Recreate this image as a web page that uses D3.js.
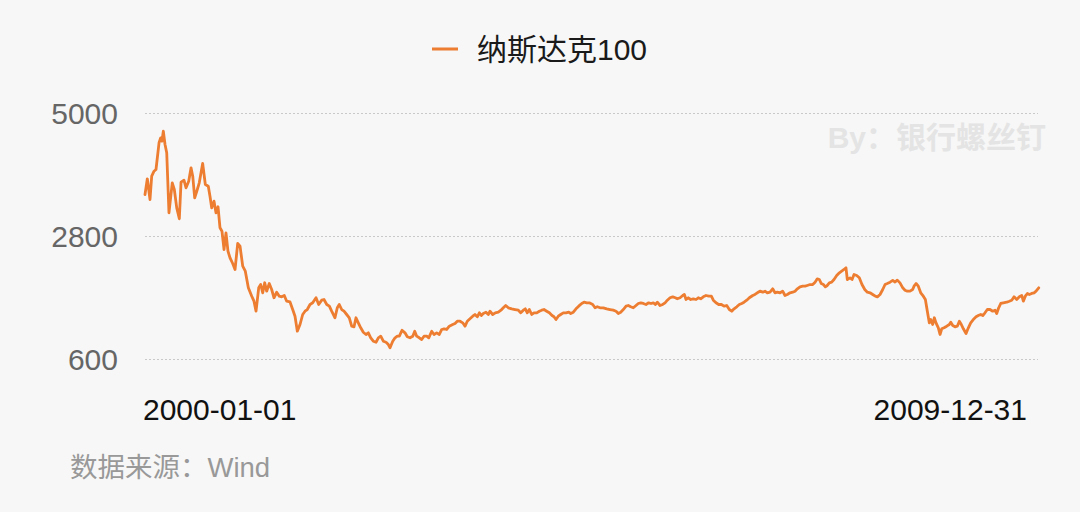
<!DOCTYPE html>
<html><head><meta charset="utf-8">
<script src="https://cdn.jsdelivr.net/npm/d3@7"></script>
<style>
html,body{margin:0;padding:0;background:#f7f7f7;}
svg{display:block;}
</style></head><body>
<svg id="c" width="1080" height="512"></svg>
<script>
const seriesName = "纳斯达克100";
const yTicks = [600, 2800, 5000];
const xTickLabels = ["2000-01-01", "2009-12-31"];
const xTickDates = [2000.0, 2010.0];
const sourceText = "数据来源：Wind";
const watermarkText = "By：银行螺丝钉";

// dates as decimal years
const dates = [
2000.000,2000.026,2000.056,2000.075,2000.101,2000.123,2000.157,2000.176,2000.190,2000.205,
2000.224,2000.243,2000.268,2000.305,2000.328,2000.355,2000.384,2000.403,2000.436,2000.459,
2000.489,2000.515,2000.534,2000.556,2000.585,2000.607,2000.645,2000.675,2000.708,2000.727,
2000.746,2000.772,2000.794,2000.817,2000.839,2000.861,2000.884,2000.906,2000.928,2000.951,
2000.981,2001.007,2001.037,2001.063,2001.093,2001.122,2001.156,2001.194,2001.219,2001.242,
2001.272,2001.294,2001.317,2001.339,2001.361,2001.390,2001.417,2001.443,2001.473,2001.502,
2001.529,2001.558,2001.585,
2001.622,2001.652,2001.678,2001.704,2001.734,2001.764,2001.790,2001.815,2001.846,2001.876,
2001.913,2001.943,2001.977,2002.002,2002.033,2002.062,2002.088,2002.125,2002.151,2002.173,
2002.200,2002.226,2002.256,2002.285,2002.312,2002.338,2002.360,2002.386,2002.413,2002.442,
2002.472,2002.498,2002.525,2002.554,2002.584,2002.610,2002.637,2002.666,2002.696,2002.722,
2002.741,2002.771,2002.797,2002.822,2002.845,2002.875,2002.908,2002.934,2002.964,2002.995,
2003.017,2003.039,2003.068,2003.095,2003.121,2003.151,2003.174,2003.207,2003.233,2003.263,
2003.292,2003.319,2003.345,2003.375,2003.404,
2003.442,2003.468,2003.493,2003.524,2003.554,2003.580,2003.605,2003.635,2003.666,2003.691,
2003.717,2003.740,2003.762,2003.784,2003.814,2003.840,2003.859,2003.889,2003.918,2003.952,
2003.982,2004.008,2004.035,2004.064,2004.102,2004.139,2004.176,2004.203,2004.232,2004.254,
2004.276,2004.299,2004.326,2004.351,2004.382,2004.411,2004.438,2004.463,2004.493,2004.523,
2004.553,2004.575,2004.597,2004.623,2004.650,2004.679,2004.709,2004.740,2004.762,2004.791,
2004.821,2004.851,2004.885,2004.911,2004.941,2004.970,
2005.008,2005.034,2005.059,2005.090,2005.127,2005.165,2005.201,2005.238,2005.269,2005.294,
2005.321,2005.350,2005.381,2005.406,2005.433,2005.462,2005.492,2005.518,2005.545,2005.574,
2005.604,2005.634,2005.660,2005.686,2005.708,2005.731,2005.761,2005.791,2005.817,2005.843,
2005.873,2005.903,2005.932,2005.954,2005.985,2006.015,2006.033,2006.052,2006.077,2006.104,
2006.133,2006.164,2006.189,2006.216,2006.245,2006.275,2006.306,2006.335,2006.357,2006.387,
2006.417,2006.447,2006.477,2006.507,2006.536,2006.563,2006.589,2006.619,2006.648,2006.675,
2006.701,2006.731,2006.760,
2006.798,2006.823,2006.849,2006.879,2006.910,2006.935,2006.961,2006.991,2007.021,2007.047,
2007.073,2007.103,2007.133,2007.159,2007.185,2007.215,2007.245,2007.271,2007.297,2007.327,
2007.357,2007.383,2007.408,2007.439,2007.469,2007.495,2007.520,2007.543,2007.565,2007.588,
2007.610,2007.632,2007.655,2007.681,2007.707,2007.737,2007.767,2007.793,2007.819,2007.841,
2007.856,2007.886,2007.909,2007.931,2007.961,2007.990,2008.020,2008.051,2008.080,2008.110,
2008.140,2008.169,2008.192,2008.222,2008.252,2008.278,2008.303,
2008.334,2008.364,2008.390,2008.415,2008.445,2008.476,2008.501,2008.527,2008.557,2008.587,
2008.602,2008.625,2008.650,2008.677,2008.706,2008.729,2008.751,2008.773,2008.789,2008.811,
2008.829,2008.848,2008.874,2008.893,2008.912,2008.938,2008.968,2008.997,2009.013,2009.035,
2009.061,2009.086,2009.109,2009.131,2009.154,2009.184,2009.210,2009.236,2009.265,2009.296,
2009.321,2009.348,2009.371,2009.396,2009.422,2009.452,2009.482,2009.508,2009.527,2009.549,
2009.572,2009.601,2009.639,2009.668,2009.695,2009.721,2009.751,2009.780,2009.807,2009.825,
2009.847,2009.870,2009.892,2009.918,2009.945,2009.967,2009.997
];

const values = [
3551,3832,3462,3879,3968,3998,4476,4565,4505,4683,
4445,4297,3224,3760,3641,3313,3117,3771,3807,3671,
3789,4028,3879,3492,3641,3760,4106,3730,3700,3521,
3313,3432,3224,3331,2956,2895,2567,2866,2537,2419,
2317,2210,2675,2627,2269,2179,1882,1732,1643,1464,
1882,1941,1793,1972,1822,1959,1852,1704,1804,1732,
1721,1745,1643,
1630,1494,1374,1106,1226,1405,1464,1494,1584,1614,
1704,1584,1661,1673,1584,1554,1464,1346,1525,1584,
1494,1464,1405,1346,1196,1185,1346,1256,1167,1088,
1047,1077,988,927,909,988,1017,927,909,868,
809,927,988,1017,1017,1124,1077,1006,988,1017,
1106,1017,988,958,1017,1017,988,1106,1047,1077,
1047,1137,1149,1137,1196,
1226,1244,1285,1285,1256,1196,1285,1328,1374,1405,
1364,1435,1387,1423,1446,1405,1464,1405,1435,1446,
1482,1525,1566,1525,1507,1494,1482,1435,1482,1507,
1435,1494,1405,1435,1435,1464,1482,1494,1464,1435,
1387,1364,1315,1374,1405,1435,1435,1446,1423,1446,
1507,1554,1602,1625,1614,1614,
1584,1525,1543,1525,1525,1507,1494,1482,1464,1423,
1446,1494,1554,1566,1543,1525,1566,1602,1614,1602,
1584,1614,1602,1614,1584,1625,1566,1584,1614,1661,
1704,1721,1704,1686,1704,1745,1763,1673,1704,1673,
1686,1673,1704,1686,1721,1745,1732,1732,1661,1614,
1584,1584,1554,1566,1494,1464,1507,1543,1584,1602,
1625,1661,1704,
1745,1763,1793,1822,1804,1822,1793,1804,1864,1793,
1804,1793,1822,1745,1763,1793,1804,1822,1864,1900,
1911,1911,1924,1941,1941,1983,2043,2031,1959,1941,
1900,1924,1972,1983,2031,2102,2151,2180,2210,2240,
2031,2061,2031,2120,2102,2061,1941,1852,1804,1793,
1763,1732,1721,1763,1852,1941,1959,
1983,2015,1985,2020,1970,1882,1840,1822,1822,1852,
1911,1959,1911,1793,1732,1673,1464,1256,1315,1226,
1346,1256,1167,1047,1149,1167,1196,1226,1267,1208,
1185,1196,1285,1226,1149,1065,1167,1256,1315,1364,
1387,1405,1387,1435,1494,1494,1464,1482,1423,1525,
1602,1614,1625,1643,1661,1721,1673,1721,1745,1643,
1732,1781,1763,1781,1793,1822,1882
];

const svg = d3.select("#c");
const W = 1080, H = 512;
svg.append("rect").attr("width", W).attr("height", H).attr("fill", "#f7f7f7");

const x = d3.scaleLinear().domain([2000, 2010]).range([145, 1039]);
const y = d3.scaleLinear().domain([600, 5000]).range([359.5, 113.5]);

const latin = "'Liberation Sans', Arial, 'Noto Sans CJK SC', sans-serif";
const cjk = "'Liberation Sans', 'Noto Sans CJK SC', sans-serif";

// gridlines
svg.append("g").selectAll("line").data(yTicks).join("line")
  .attr("x1", 145).attr("x2", 1038)
  .attr("y1", d => y(d)).attr("y2", d => y(d))
  .attr("stroke", "#c9c9c9").attr("stroke-width", 1)
  .attr("stroke-dasharray", "2,2");

// y labels
svg.append("g").selectAll("text").data(yTicks).join("text")
  .attr("x", 118).attr("y", d => y(d))
  .attr("text-anchor", "end").attr("dominant-baseline", "central")
  .attr("font-family", latin).attr("font-size", 30).attr("fill", "#666")
  .text(d => d);

// watermark
svg.append("text").attr("x", 1046).attr("y", 148)
  .attr("text-anchor", "end")
  .attr("font-family", cjk).attr("font-weight", "bold").attr("font-size", 30)
  .attr("fill", "#e4e4e4").text(watermarkText);

// line
const data = d3.zip(dates, values);
svg.append("path").datum(data)
  .attr("fill", "none").attr("stroke", "#ED7D31").attr("stroke-width", 2.8)
  .attr("stroke-linejoin", "round").attr("stroke-linecap", "round")
  .attr("d", d3.line().x(d => x(d[0])).y(d => y(d[1])));

// x labels
svg.append("g").selectAll("text").data(xTickLabels).join("text")
  .attr("x", (d, i) => i === 0 ? x(xTickDates[i]) - 2 : x(xTickDates[i]) - 12)
  .attr("y", 420)
  .attr("text-anchor", (d, i) => i === 0 ? "start" : "end")
  .attr("font-family", latin).attr("font-size", 30).attr("fill", "#111")
  .text(d => d);

// legend
const lg = svg.append("g");
lg.append("line").attr("x1", 432).attr("x2", 458).attr("y1", 49).attr("y2", 49)
  .attr("stroke", "#ED7D31").attr("stroke-width", 3);
lg.append("text").attr("x", 477).attr("y", 49).attr("dominant-baseline", "central")
  .attr("font-family", cjk).attr("font-size", 30).attr("fill", "#1a1a1a")
  .text(seriesName);

// source
svg.append("text").attr("x", 70).attr("y", 477)
  .attr("font-family", cjk).attr("font-size", 27.5).attr("fill", "#999")
  .text(sourceText);
</script>
</body></html>
